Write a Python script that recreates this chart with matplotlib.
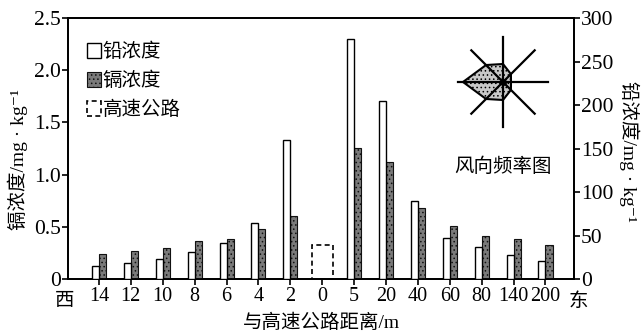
import numpy as np
import matplotlib
matplotlib.use("Agg")
import matplotlib.pyplot as plt
from matplotlib.patches import Patch, Polygon

plt.rcParams['font.family'] = ['Liberation Serif', 'Noto Sans CJK SC', 'DejaVu Serif']
plt.rcParams['hatch.linewidth'] = 0.6
plt.rcParams['hatch.color'] = '#222222'

# ---- data ----
distances = ['14', '12', '10', '8', '6', '4', '2', '0', '5', '20', '40', '60', '80', '140', '200']
lead = [15, 19, 23, 31, 41, 65, 160, np.nan, 276, 205, 90, 47, 37, 28, 21]          # mg/kg (right axis)
cadmium = [0.24, 0.27, 0.30, 0.36, 0.38, 0.48, 0.60, np.nan, 1.26, 1.12, 0.68, 0.51, 0.41, 0.38, 0.33]  # mg/kg (left axis)
highway_index = 7
highway_height = 0.33
wind_dirs = ['E', 'NE', 'N', 'NW', 'W', 'SW', 'S', 'SE']
wind_freq = [0.2, 0.28, 0.45, 0.6, 1.0, 0.6, 0.45, 0.28]

x = np.arange(len(distances))
bw = 0.22

fig = plt.figure(figsize=(6.44, 3.35), dpi=100)
ax = fig.add_axes([0.1056, 0.167, 0.786, 0.779])
ax2 = ax.twinx()

# cadmium bars (left axis)
ax.bar(x + bw / 2, cadmium, width=bw, facecolor='#7a7a7a', edgecolor='#111111',
       hatch='....', linewidth=0.8, zorder=3)
# highway (dashed box)
ax.bar([highway_index], [highway_height], width=0.66, fill=False, edgecolor='black',
       linestyle=(0, (3, 2)), linewidth=1.2, zorder=3)
# lead bars (right axis)
ax2.bar(x - bw / 2, lead, width=bw, facecolor='white', edgecolor='black', linewidth=1.0, zorder=3)

ax.set_xlim(-0.97, 14.9)
ax.set_ylim(0, 2.5)
ax2.set_ylim(0, 300)
ax.set_yticks([0, 0.5, 1.0, 1.5, 2.0, 2.5])
ax.set_yticklabels(['0', '0.5', '1.0', '1.5', '2.0', '2.5'])
ax2.set_yticks([0, 50, 100, 150, 200, 250, 300])
ax.set_xticks(x)
ax.set_xticklabels(distances)

for a in (ax, ax2):
    for s in a.spines.values():
        s.set_linewidth(1.3)
ax.tick_params(axis='y', direction='out', length=4, width=1.2, labelsize=15.5, pad=1)
ax2.tick_params(axis='y', direction='out', length=4, width=1.2, labelsize=15.5, pad=1)
ax.tick_params(axis='x', direction='out', length=4, width=1.2, labelsize=14.5, pad=2)

ax.text(-0.006, -0.055, '西', transform=ax.transAxes, ha='center', va='top', fontsize=14)
ax.text(1.008, -0.055, '东', transform=ax.transAxes, ha='center', va='top', fontsize=14)

ax.set_ylabel('镉浓度/mg · kg\u207b\u00b9', fontsize=14, ha='center', va='center')
ax.yaxis.set_label_coords(-0.1, 0.456)
ax2.set_ylabel('铅浓度/mg · kg\u207b\u00b9', fontsize=14, rotation=-90, ha='center', va='center')
ax2.yaxis.set_label_coords(1.108, 0.49)
ax.set_xlabel('与高速公路距离/m', fontsize=14, labelpad=5)

handles = [Patch(facecolor='white', edgecolor='black', linewidth=1.0),
           Patch(facecolor='#7a7a7a', edgecolor='#111111', hatch='....', linewidth=0.8),
           Patch(fill=False, edgecolor='black', linestyle=(0, (3, 2)), linewidth=1.2)]
leg = ax.legend(handles, ['铅浓度', '镉浓度', '高速公路'], loc='upper left',
                bbox_to_anchor=(0.038, 0.905), frameon=False, fontsize=14,
                handlelength=0.7, handleheight=0.8, handletextpad=0.1,
                labelspacing=0.55, borderpad=0, borderaxespad=0)

ax.text(0.859, 0.43, '风向频率图', transform=ax.transAxes, ha='center', va='center', fontsize=14)

# wind rose inset
cx, cy = 503 / 644, 1 - 82 / 335
wpx, hpx = 100, 100
rax = fig.add_axes([cx - wpx / 2 / 644, cy - hpx / 2 / 335, wpx / 644, hpx / 335])
rax.set_xlim(-1.25, 1.25)
rax.set_ylim(-1.25, 1.25)
rax.set_aspect('equal')
rax.axis('off')
angles = np.deg2rad(np.arange(0, 360, 45))
pts = np.column_stack([np.array(wind_freq) * np.cos(angles), np.array(wind_freq) * np.sin(angles)])
rax.add_patch(Polygon(pts, closed=True, facecolor='#c8c8c8', edgecolor='black', linewidth=1.5, hatch='....'))
for ang in angles[:4]:
    L = 1.12
    rax.plot([-L * np.cos(ang), L * np.cos(ang)], [-L * np.sin(ang), L * np.sin(ang)],
             color='black', linewidth=1.6)
rax.plot([0], [0], 'o', color='black', markersize=4)

fig.savefig('out.png', dpi=100)
